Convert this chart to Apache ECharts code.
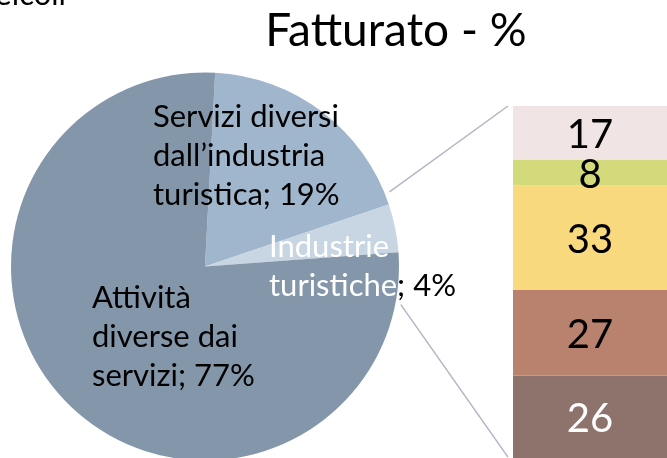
<!DOCTYPE html>
<html>
<head>
<meta charset="utf-8">
<script src="https://cdn.jsdelivr.net/npm/echarts@6/dist/echarts.min.js"></script>
<style>
	html, body { margin: 0; padding: 0; background: #fff; }
	#container { width: 667px; height: 458px; }
</style>
</head>
<body>
<div id="container"></div>
<script>
// dati del grafico
var pieNames = [ "Servizi diversi\ndall’industria\nturistica", "Industrie\nturistiche", "Attività\ndiverse dai\nservizi" ];
var pieValues = [ 19, 4, 77 ];
var pieColors = [ "#9fb6cd", "#c8d5e2", "#8497aa" ];

// barra di dettaglio (dal basso verso l'alto)
var barCategories = [ "Industrie turistiche" ];
var barValues = [ 26, 27, 33, 8, 17 ];
var barColors = [ "#8d736b", "#b9826f", "#f9d97e", "#d3da7b", "#f0e4e4" ];
var barTextColors = [ "#fff", "#000", "#000", "#000", "#000" ];

var FONT = "Lato";
var LBL_SIZE = 31;

(function(){
	var dom = window.document.getElementById( "container" );
	var myChart = echarts.init( dom, null, { renderer: "canvas" } );

	// layout
	var PIE_C = [ 205, 266.5 ], PIE_R = 194;
	var BAR_LEFT = 513, BAR_TOP = 106, BAR_W = 170;
	var total = 0;
	for( var k = 0; k < barValues.length; ++k ) total += barValues[ k ];
	var BAR_H = total * 3.235;

	// posizioni etichette (angolo in alto a sinistra del blocco)
	var labelPos = [ [ 153, 97 ], [ 269, 227 ], [ 92, 278 ] ];

	var pieData = [];
	for( var i = 0; i < pieValues.length; ++i ){
		pieData.push({
			name : pieNames[ i ],
			value : pieValues[ i ],
			itemStyle : { color : pieColors[ i ] }
		});
	}

	var barSeries = [];
	for( var j = 0; j < barValues.length; ++j ){
		barSeries.push({
			type : "bar",
			stack : "tot",
			barWidth : "100%",
			data : [ barValues[ j ] ],
			itemStyle : { color : barColors[ j ] },
			label : {
				show : true,
				position : "inside",
				offset : [ 0, 2 ],
				fontFamily : FONT,
				fontSize : 40,
				color : barTextColors[ j ],
				formatter : "{c}"
			},
			silent : true
		});
	}

	var option = {
		animation : false,
		title : {
			text : "Fatturato - %",
			left : 391,
			top : 3,
			textAlign : "center",
			textStyle : { fontFamily : FONT, fontWeight : "normal", fontSize : 46, color : "#000" }
		},
		grid : {
			left : BAR_LEFT,
			top : BAR_TOP,
			width : BAR_W,
			height : BAR_H,
			containLabel : false
		},
		xAxis : { type : "category", data : barCategories, show : false },
		yAxis : { type : "value", min : 0, max : total, show : false },
		series : [
			{
				type : "pie",
				center : PIE_C,
				radius : PIE_R,
				startAngle : 87,
				clockwise : true,
				data : pieData,
				label : {
					show : true,
					position : "inside",
					fontFamily : FONT,
					fontSize : LBL_SIZE,
					lineHeight : 39,
					color : "#000",
					align : "left",
					formatter : function( p ){
						if( p.dataIndex === 1 ){
							return "{w|Industrie}\n{w|turistiche}{b|; " + p.value + "%}";
						}
						return p.name + "; " + p.value + "%";
					},
					rich : {
						w : { color : "#fff", fontFamily : FONT, fontSize : LBL_SIZE, lineHeight : 39 },
						b : { color : "#000", fontFamily : FONT, fontSize : LBL_SIZE, lineHeight : 39 }
					}
				},
				labelLine : { show : false },
				labelLayout : function( p ){
					var pos = labelPos[ p.dataIndex ];
					return { x : pos[ 0 ], y : pos[ 1 ], align : "left", verticalAlign : "top" };
				},
				silent : true
			}
		].concat( barSeries ),
		graphic : []
	};

	// linee di collegamento torta -> barra
	var toRad = Math.PI / 180;
	var pt = function( deg, r ){
		return [ PIE_C[ 0 ] + r * Math.sin( deg * toRad ), PIE_C[ 1 ] - r * Math.cos( deg * toRad ) ];
	};
	var a = pt( 68, 199 ), b = pt( 101, 199.5 );
	option.graphic.push(
		{ type : "line", shape : { x1 : a[ 0 ], y1 : a[ 1 ], x2 : BAR_LEFT - 5, y2 : BAR_TOP }, style : { stroke : "#b4b4c4", lineWidth : 1.5 } },
		{ type : "line", shape : { x1 : b[ 0 ], y1 : b[ 1 ], x2 : BAR_LEFT - 5, y2 : BAR_TOP + BAR_H - 8 }, style : { stroke : "#b4b4c4", lineWidth : 1.5 } },
		// testo tagliato in alto a sinistra
		{ type : "text", x : 66, y : 10, style : { text : "veicoli", fontFamily : FONT, fontSize : LBL_SIZE, fill : "#000", align : "right", verticalAlign : "bottom" } }
	);

	if( option && typeof option === "object" ) myChart.setOption( option, true );

	window.addEventListener( "resize", function( e ){ myChart.resize(); } );
})();
</script>
</body>
</html>
